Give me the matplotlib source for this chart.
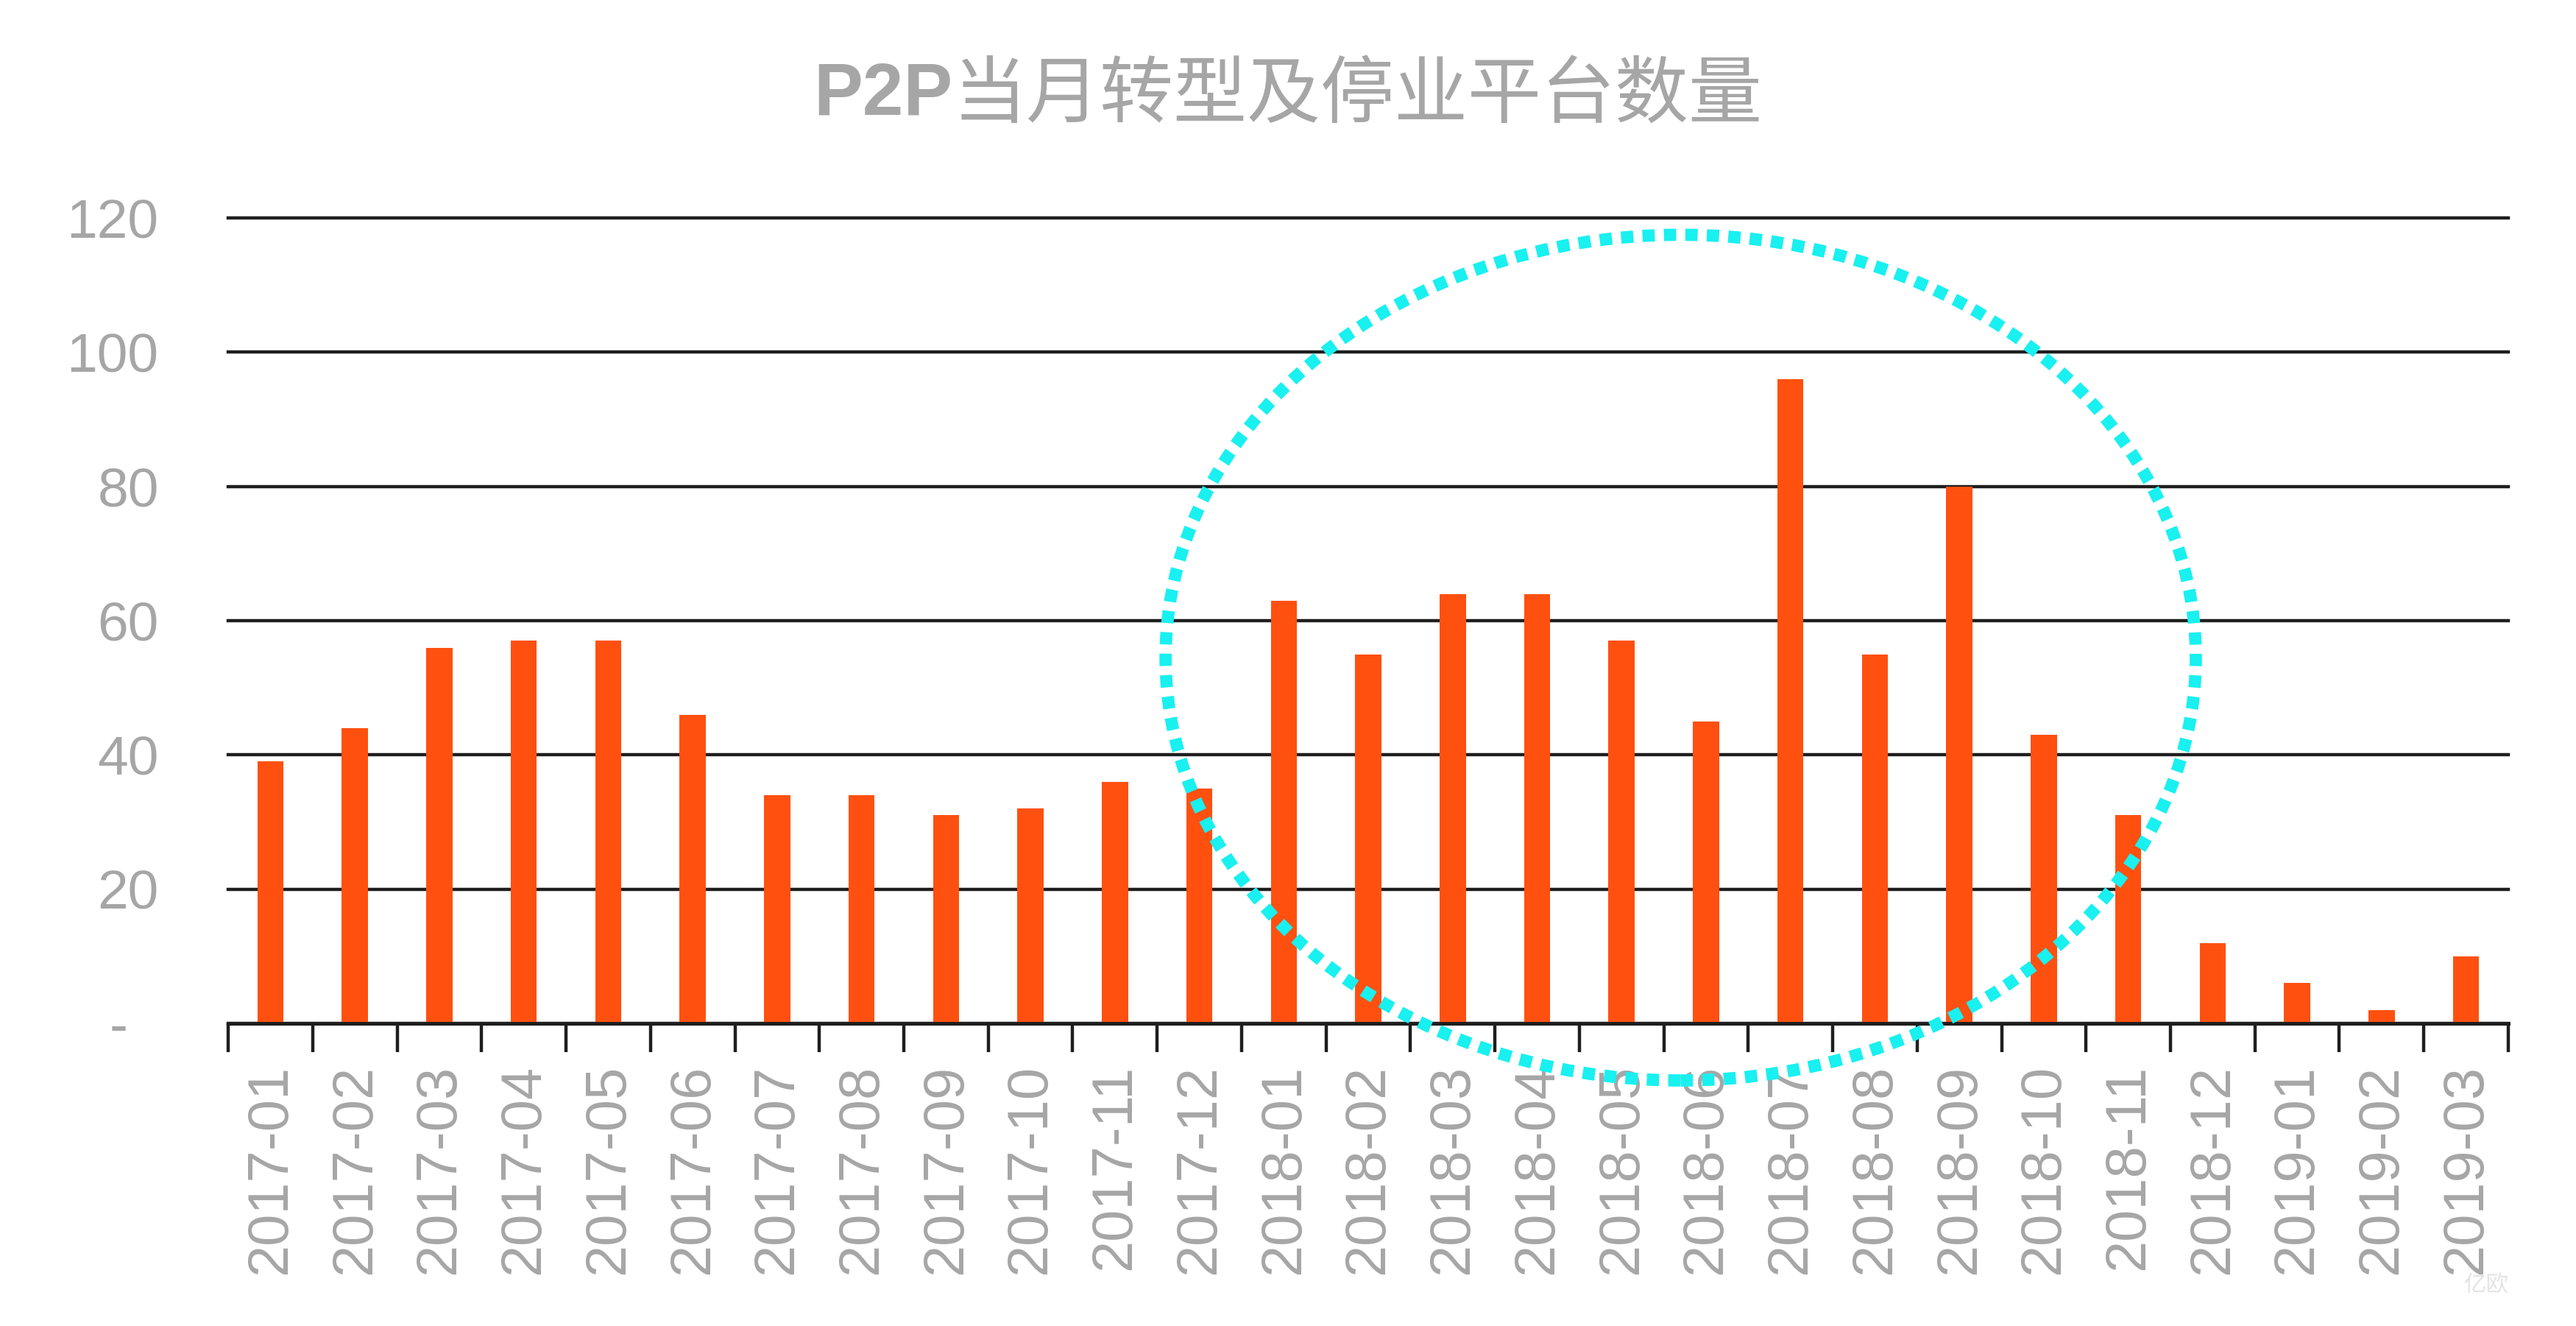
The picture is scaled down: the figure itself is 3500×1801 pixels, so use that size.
import numpy as np
import matplotlib
matplotlib.use("Agg")
import matplotlib.pyplot as plt
from matplotlib.patches import Ellipse

# data
months = [
    "2017-01", "2017-02", "2017-03", "2017-04", "2017-05", "2017-06",
    "2017-07", "2017-08", "2017-09", "2017-10", "2017-11", "2017-12",
    "2018-01", "2018-02", "2018-03", "2018-04", "2018-05", "2018-06",
    "2018-07", "2018-08", "2018-09", "2018-10", "2018-11", "2018-12",
    "2019-01", "2019-02", "2019-03",
]
counts = [39, 44, 56, 57, 57, 46, 34, 34, 31, 32, 36, 35,
          63, 55, 64, 64, 57, 45, 96, 55, 80, 43, 31, 12, 6, 2, 10]
y_ticks = [0, 20, 40, 60, 80, 100, 120]
y_ticklabels = ["-  ", "20", "40", "60", "80", "100", "120"]
title_latin = "P2P"
title_cjk = "当月转型及停业平台数量"

# highlight ellipse (data coords): centre, width, height
circle_center = (16.7, 54.5)
circle_w, circle_h = 12.2, 126

bar_color = "#FF5010"
text_grey = "#A6A6A6"
line_black = "#1E1E1E"
FontFam = ["Liberation Sans", "Noto Sans CJK SC", "DejaVu Sans"]
plt.rcParams["font.family"] = FontFam

fig = plt.figure(figsize=(35, 18.01), dpi=100)
ax = fig.add_axes([0.0886, 0.2282, 0.9737 - 0.0886, 0.8356 - 0.2282])

x = np.arange(len(months))
ax.bar(x, counts, width=0.31, color=bar_color, zorder=3)

ax.set_xlim(-0.5, len(months) - 0.5)
ax.set_ylim(0, 120)

# horizontal gridlines
ax.set_yticks(y_ticks)
ax.set_yticklabels(y_ticklabels)
ax.yaxis.grid(True, color=line_black, lw=3.2, zorder=1)
for gl in ax.yaxis.get_gridlines():
    gl.set_clip_on(False)
ax.tick_params(axis="y", length=0, pad=68, labelsize=54, labelcolor=text_grey)

# x axis: ticks on category boundaries, labels at centres
ax.set_xticks(np.arange(-0.5, len(months), 1.0))
ax.set_xticklabels([])
ax.set_xticks(x, minor=True)
ax.set_xticklabels(months, minor=True, rotation=90)
ax.tick_params(axis="x", which="major", length=28, width=3.2, color=line_black, direction="out")
ax.tick_params(axis="x", which="minor", length=0, pad=40, labelsize=56, labelcolor=text_grey)

for s in ["top", "right", "left"]:
    ax.spines[s].set_visible(False)
ax.spines["bottom"].set_color(line_black)
ax.spines["bottom"].set_linewidth(3.6)
ax.spines["bottom"].set_zorder(4)

# dotted cyan ellipse highlighting 2018
ell = Ellipse(circle_center, circle_w, circle_h, fill=False, edgecolor="#19F0F0",
              lw=12, linestyle=(0, (1, 0.75)), zorder=5, clip_on=False)
ax.add_patch(ell)

# title: bold latin part + regular CJK part, centred together
t1 = fig.text(0.5, 0.928, title_latin, ha="left", va="center", fontsize=72,
              color=text_grey, fontweight="bold")
t2 = fig.text(0.5, 0.928, title_cjk, ha="left", va="center", fontsize=72,
              color=text_grey, family=["Noto Sans CJK SC", "DejaVu Sans"])
renderer = fig.canvas.get_renderer()
w1 = t1.get_window_extent(renderer).width / fig.bbox.width
w2 = t2.get_window_extent(renderer).width / fig.bbox.width
start = 0.5 - (w1 + w2) / 2
t1.set_x(start)
t2.set_x(start + w1)

# faint watermark
fig.text(0.965, 0.03, "亿欧", ha="center", va="center", fontsize=22, color="#E4E4E4")

fig.savefig("out.png", dpi=100, facecolor="white")
